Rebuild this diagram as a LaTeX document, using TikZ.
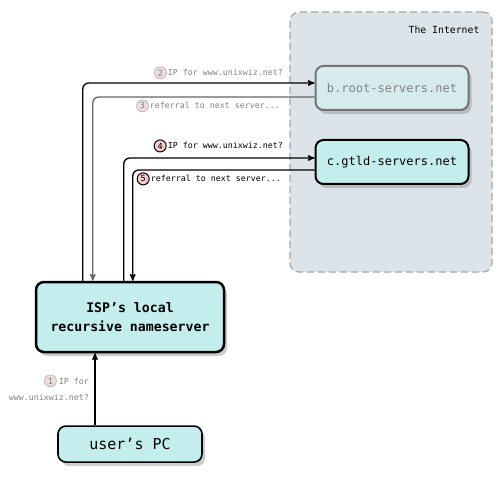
\documentclass[tikz,border=0pt]{standalone}
\usepackage{fontspec}
\setmonofont{DejaVu Sans Mono}
\usepackage{tikz}
\usetikzlibrary{shadows}
\usetikzlibrary{positioning}
\usetikzlibrary{arrows}

\definecolor{boxfill}{RGB}{196,238,238}
\definecolor{fadefill}{RGB}{214,236,236}
\definecolor{netfill}{RGB}{221,228,233}
\definecolor{numfill}{RGB}{242,204,204}
\definecolor{fadenum}{RGB}{236,220,220}
\definecolor{fadetext}{RGB}{130,130,130}

\begin{document}
\begin{tikzpicture}[x=1pt,y=-1pt,>=stealth',
	server/.style={rectangle,rounded corners=8pt,draw,fill=boxfill,line width=2pt,
		drop shadow={shadow xshift=3pt,shadow yshift=-4pt,opacity=.4},
		font=\ttfamily\fontsize{12}{14}\selectfont},
	num/.style={circle,draw,fill=numfill,inner sep=0pt,minimum size=12pt,
		font=\ttfamily\fontsize{8.5}{8}\selectfont},
	lbl/.style={inner sep=0pt,font=\ttfamily\fontsize{8.3}{10}\selectfont},
	msg/.style={->,line width=1.3pt,rounded corners=6pt}]
	
	\useasboundingbox (0,0) rectangle (500,478);
	
	% the internet
	\node[draw=gray!70,fill=netfill,dashed,dash pattern=on 7pt off 4pt,line width=1.2pt,
		rounded corners=9pt,minimum width=202pt,minimum height=260pt] (net) at (391,142) {};
	\node[lbl,font=\ttfamily\fontsize{9.8}{12}\selectfont,anchor=north east] (netlbl)
		at ([xshift=-13pt,yshift=-14pt]net.north east) {The Internet};
	
	\node[server,draw=black!55,fill=fadefill,text=fadetext,minimum width=153pt,minimum height=44pt] (broot) at (392,88) {b.root-servers.net};
	\node[server,minimum width=153pt,minimum height=44pt] (gtld) [below=28pt of broot] {c.gtld-servers.net};
	
	\node[server,line width=2.5pt,minimum width=188pt,minimum height=70pt,align=center,
		font=\ttfamily\bfseries\fontsize{13.2}{19}\selectfont] (isp) at (130,317) {ISP’s local\\recursive nameserver};
	\node[server,line width=1.6pt,minimum width=144pt,minimum height=36pt,
		font=\ttfamily\fontsize{15}{17}\selectfont] (pc) [below=72pt of isp] {user’s PC};
	
	% queries and referrals
	\coordinate (pcout) at ([xshift=-35pt]pc.north);
	\draw[msg] (pcout) -- (pcout |- isp.south);
	\draw[msg] ([xshift=48pt]isp.north west) |- ([yshift=5pt]broot.west);
	\draw[msg,draw=black!60] ([yshift=-9pt]broot.west) -| ([xshift=58pt]isp.north west);
	\draw[msg] ([xshift=89pt]isp.north west) |- ([yshift=4pt]gtld.west);
	\draw[msg] ([yshift=-8pt]gtld.west) -| ([xshift=98pt]isp.north west);
	
	% labels
	\node[lbl,text=fadetext,anchor=base east] (lbl1a) at (89,384) {IP for};
	\node[lbl,text=fadetext,anchor=base east] (lbl1b) at (89,400) {www.unixwiz.net?};
	\node[num,draw=gray!80,fill=fadenum,text=fadetext] (num1) [left=2pt of lbl1a] {1};
	\node[lbl,text=fadetext,anchor=base east] (lbl2) at (283,76) {IP for www.unixwiz.net?};
	\node[num,draw=gray!80,fill=fadenum,text=fadetext] (num2) [left=1pt of lbl2] {2};
	\node[lbl,text=fadetext,anchor=base east] (lbl3) at (280,109) {referral to next server...};
	\node[num,draw=gray!80,fill=fadenum,text=fadetext] (num3) [left=1pt of lbl3] {3};
	\node[lbl,anchor=base east] (lbl4) at (283,149) {IP for www.unixwiz.net?};
	\node[num,line width=1pt] (num4) [left=1pt of lbl4] {4};
	\node[lbl,anchor=base east] (lbl5) at (281,182) {referral to next server...};
	\node[num,line width=1pt] (num5) [left=1pt of lbl5] {5};
\end{tikzpicture}
\end{document}
